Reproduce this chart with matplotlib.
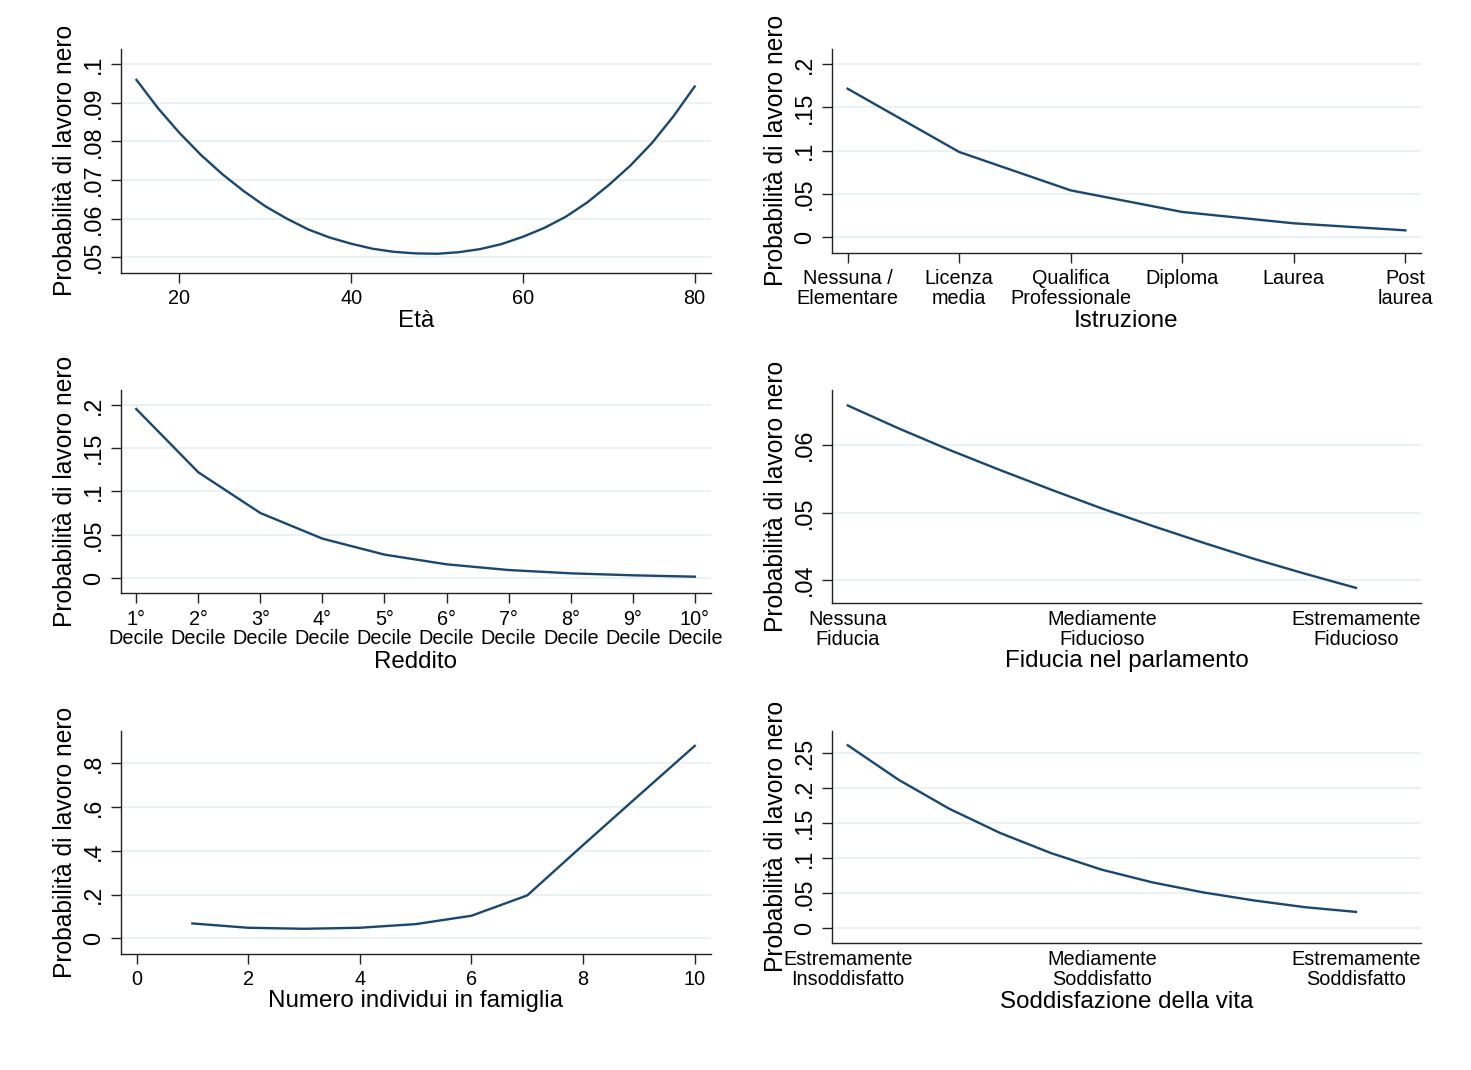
import matplotlib
matplotlib.use("Agg")
import matplotlib.pyplot as plt

plt.rcParams['font.family'] = ['Liberation Sans', 'DejaVu Sans']

# --- data ---
eta = [15, 17.5, 20, 22.5, 25, 27.5, 30, 32.5, 35, 37.5, 40, 42.5, 45, 47.5,
       50, 52.5, 55, 57.5, 60, 62.5, 65, 67.5, 70, 72.5, 75, 77.5, 80]
prob_eta = [0.0959, 0.0886, 0.0822, 0.0765, 0.0715, 0.0671, 0.0632, 0.0600, 0.0572,
            0.0551, 0.0535, 0.0522, 0.0514, 0.0510, 0.0509, 0.0513, 0.0521, 0.0534,
            0.0553, 0.0576, 0.0605, 0.0642, 0.0687, 0.0737, 0.0795, 0.0864, 0.0942]

istruzione = [1, 2, 3, 4, 5, 6]
prob_istruzione = [0.1715, 0.0985, 0.0542, 0.0293, 0.0162, 0.0081]
istruzione_labels = ["Nessuna /\nElementare", "Licenza\nmedia", "Qualifica\nProfessionale",
                     "Diploma", "Laurea", "Post\nlaurea"]

reddito = [1, 2, 3, 4, 5, 6, 7, 8, 9, 10]
prob_reddito = [0.1954, 0.1222, 0.0751, 0.0455, 0.0270, 0.0158, 0.0092, 0.0054, 0.0031, 0.0015]
reddito_labels = [f"{i}°\nDecile" for i in reddito]

fiducia = [0, 1, 2, 3, 4, 5, 6, 7, 8, 9, 10]
prob_fiducia = [0.0659, 0.0625, 0.0593, 0.0563, 0.0534, 0.0506, 0.0480, 0.0455, 0.0431, 0.0409, 0.0388]
fiducia_ticks = [0, 5, 10]
fiducia_labels = ["Nessuna\nFiducia", "Mediamente\nFiducioso", "Estremamente\nFiducioso"]

famiglia = [1, 2, 3, 4, 5, 6, 7, 8, 9, 10]
prob_famiglia = [0.0687, 0.0489, 0.0443, 0.0489, 0.0656, 0.1038, 0.197, 0.427, 0.654, 0.880]

soddisfazione = [0, 1, 2, 3, 4, 5, 6, 7, 8, 9, 10]
prob_soddisfazione = [0.2615, 0.2122, 0.1707, 0.1361, 0.1074, 0.0837, 0.0655, 0.0512, 0.0397, 0.0301, 0.0234]
soddisfazione_ticks = [0, 5, 10]
soddisfazione_labels = ["Estremamente\nInsoddisfatto", "Mediamente\nSoddisfatto", "Estremamente\nSoddisfatto"]

yt_eta = [0.05, 0.06, 0.07, 0.08, 0.09, 0.1]
yl_eta = [".05", ".06", ".07", ".08", ".09", ".1"]
yt_05 = [0, 0.05, 0.1, 0.15, 0.2]
yl_05 = ["0", ".05", ".1", ".15", ".2"]
yt_fid = [0.04, 0.05, 0.06]
yl_fid = [".04", ".05", ".06"]
yt_fam = [0, 0.2, 0.4, 0.6, 0.8]
yl_fam = ["0", ".2", ".4", ".6", ".8"]
yt_sod = [0, 0.05, 0.1, 0.15, 0.2, 0.25]
yl_sod = ["0", ".05", ".1", ".15", ".2", ".25"]

W, H = 1471, 1070
LINE = "#1a476f"
GRID = "#e8f0f2"

fig = plt.figure(figsize=(W / 100, H / 100), dpi=100)


def panel(box, x, y, xlim, ylim, yticks, ylabels, xticks, xlabels, xlabel, xlabel_y, ticklen=7.2):
    left, top, right, bottom = box
    ax = fig.add_axes([left / W, 1 - bottom / H, (right - left) / W, (bottom - top) / H])
    ax.plot(x, y, color=LINE, lw=1.7, zorder=3)
    ax.set_xlim(*xlim)
    ax.set_ylim(*ylim)
    for s in ["top", "right"]:
        ax.spines[s].set_visible(False)
    for s in ["left", "bottom"]:
        ax.spines[s].set_linewidth(1.0)
        ax.spines[s].set_color("#222222")
    ax.set_yticks(yticks)
    ax.set_yticklabels(ylabels, rotation=90, va="center")
    ax.set_xticks(xticks)
    ax.set_xticklabels(xlabels, linespacing=1.05)
    ax.tick_params(axis="y", length=7.2, width=1.0, color="#222222", labelsize=16.8, pad=4.3)
    ax.tick_params(axis="x", length=ticklen, width=1.0, color="#222222", labelsize=14.3,
                   pad=4.5 if ticklen > 0 else 5.5)
    ax.grid(axis="y", color=GRID, lw=1.2, zorder=0)
    ax.set_axisbelow(True)
    ax.set_xlabel(xlabel, fontsize=17.4)
    ax.xaxis.set_label_coords((left + right) / 2 / W, 1 - xlabel_y / H, transform=fig.transFigure)
    ax.xaxis.label.set_va("center")
    ax.set_ylabel("Probabilità di lavoro nero", fontsize=17.7)
    ax.yaxis.set_label_coords((left - 56) / W, 1 - (top + bottom) / 2 / H, transform=fig.transFigure)
    ax.yaxis.label.set_va("center")
    return ax


panel((121, 49, 711, 272.7), eta, prob_eta, (13.2, 81.9), (0.046, 0.1039),
      yt_eta, yl_eta, [20, 40, 60, 80], ["20", "40", "60", "80"], "Età", 321)

panel((832, 49, 1421, 252.7), istruzione, prob_istruzione, (0.86, 6.14), (-0.0177, 0.2173),
      yt_05, yl_05, istruzione, istruzione_labels, "Istruzione", 321)

panel((121, 390, 711, 593.3), reddito, prob_reddito, (0.755, 10.26), (-0.0177, 0.2173),
      yt_05, yl_05, reddito, reddito_labels, "Reddito", 661.5)

panel((832, 390, 1421, 602.7), fiducia, prob_fiducia, (-0.31, 11.28), (0.0366, 0.0682),
      yt_fid, yl_fid, fiducia_ticks, fiducia_labels, "Fiducia nel parlamento", 661.5, ticklen=0)

panel((121, 730.7, 711, 953.5), famiglia, prob_famiglia, (-0.278, 10.29), (-0.0686, 0.949),
      yt_fam, yl_fam, [0, 2, 4, 6, 8, 10], ["0", "2", "4", "6", "8", "10"],
      "Numero individui in famiglia", 1001.5)

panel((832, 730.7, 1421, 942.7), soddisfazione, prob_soddisfazione, (-0.31, 11.28), (-0.0206, 0.2823),
      yt_sod, yl_sod, soddisfazione_ticks, soddisfazione_labels, "Soddisfazione della vita", 1001.5,
      ticklen=0)

fig.savefig("out.png", dpi=100, facecolor="white")
